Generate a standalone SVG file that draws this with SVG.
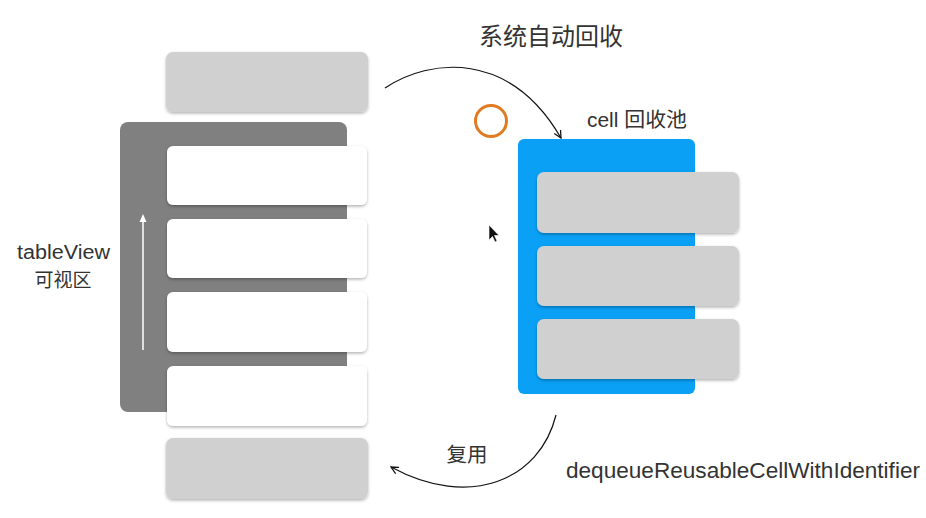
<svg xmlns="http://www.w3.org/2000/svg" width="926" height="518" viewBox="0 0 926 518">
<defs>
<filter id="sh" x="-10%" y="-20%" width="120%" height="150%">
<feDropShadow dx="0" dy="1.5" stdDeviation="1.5" flood-color="#000" flood-opacity="0.3"/>
</filter>
<marker id="ah" viewBox="0 0 10 10" refX="9" refY="5" markerWidth="9" markerHeight="9" orient="auto" markerUnits="userSpaceOnUse">
<path d="M1,1 L9,5 L1,9" fill="none" stroke="#111" stroke-width="1.4"/>
</marker>
</defs>
<style>
.gray{fill:#d0d0d0;filter:url(#sh)}
.white{fill:#ffffff;filter:url(#sh)}
.t{font-family:"Liberation Sans","Noto Sans CJK SC",sans-serif;fill:#333}
</style>
<rect width="926" height="518" fill="#fff"/>
<g id="tableview">
<rect x="120" y="122" width="227" height="290" rx="8" fill="#808080"/>
<line x1="143" y1="350" x2="143" y2="220" stroke="#fff" stroke-width="1.5"/>
<polygon points="143,214 139.5,222 146.5,222" fill="#fff"/>
</g>
<g id="cell-top"><rect class="gray" x="166" y="52" width="202" height="60" rx="7"/></g>
<g id="cell-1"><rect class="white" x="167" y="146" width="200" height="59" rx="6"/></g>
<g id="cell-2"><rect class="white" x="167" y="219" width="200" height="59" rx="6"/></g>
<g id="cell-3"><rect class="white" x="167" y="292" width="200" height="60" rx="6"/></g>
<g id="cell-4"><rect class="white" x="167" y="366" width="200" height="60" rx="6"/></g>
<g id="cell-bottom"><rect class="gray" x="166" y="438" width="202" height="61" rx="7"/></g>
<g id="pool">
<rect x="518" y="139" width="177" height="255" rx="6" fill="#0aa0f5"/>
</g>
<g id="pool-cell-1"><rect class="gray" x="537" y="172" width="202" height="61" rx="7"/></g>
<g id="pool-cell-2"><rect class="gray" x="537" y="246" width="202" height="60" rx="7"/></g>
<g id="pool-cell-3"><rect class="gray" x="537" y="319" width="202" height="60" rx="7"/></g>
<g id="circle"><circle cx="491" cy="121" r="15.5" fill="none" stroke="#e07b22" stroke-width="3"/></g>
<g id="cursor"><path d="M489,225 L489,240 L492.5,236.5 L495,242 L497,241 L494.5,235.5 L499,235.5 Z" fill="#111" stroke="#fff" stroke-width="0.6"/></g>
<g id="connectors" fill="none" stroke="#111" stroke-width="1.2">
<path d="M385,88 C430,58 510,50 561,138" marker-end="url(#ah)"/>
<path d="M556,415 C540,480 470,510 391,467" marker-end="url(#ah)"/>
</g>
<g id="labels">
<text class="t" x="551" y="45" font-size="24" text-anchor="middle">系统自动回收</text>
<text class="t" x="587" y="127" font-size="20" fill="#444" textLength="100" lengthAdjust="spacingAndGlyphs">cell 回收池</text>
<text class="t" x="467" y="462" font-size="20.5" text-anchor="middle">复用</text>
<text class="t" x="566" y="478" font-size="21.5" textLength="354" lengthAdjust="spacingAndGlyphs">dequeueReusableCellWithIdentifier</text>
<text class="t" x="17" y="259" font-size="20" fill="#555" textLength="93" lengthAdjust="spacingAndGlyphs">tableView</text>
<text class="t" x="63" y="287" font-size="19" text-anchor="middle" fill="#555">可视区</text>
</g>
</svg>
